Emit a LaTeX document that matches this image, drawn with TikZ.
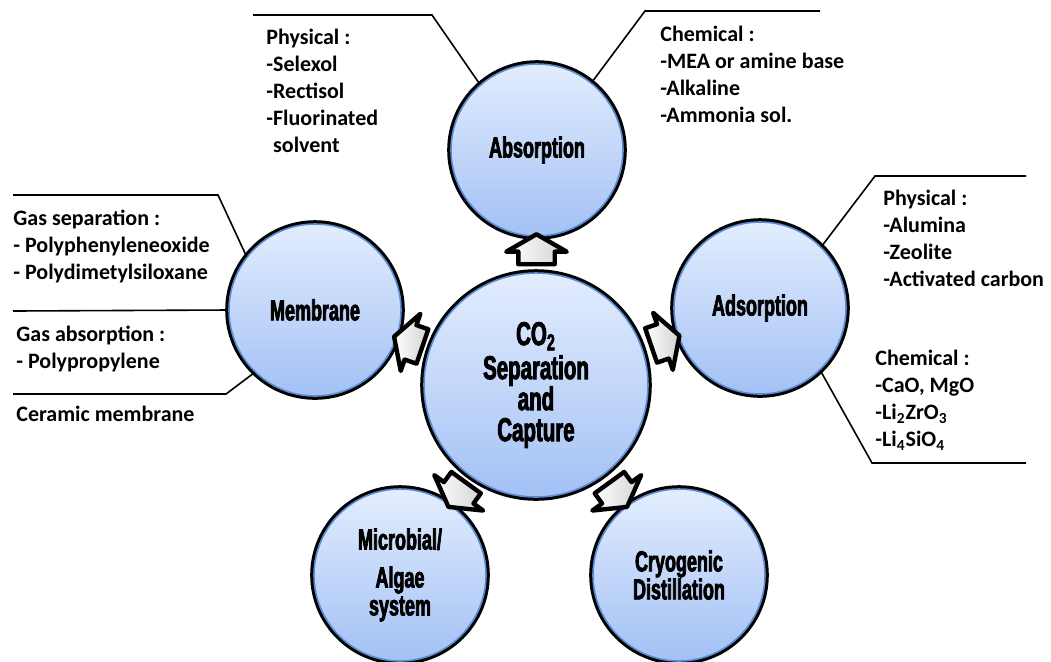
\documentclass[tikz,border=0pt]{standalone}
\usepackage{fontspec}
\setmainfont{Carlito}
\newfontfamily\circfont[FakeStretch=0.62,FakeBold=2.5]{Liberation Sans}
\usetikzlibrary{shapes.arrows,calc}

\definecolor{ringblue}{HTML}{5B8BD0}
\definecolor{topblue}{HTML}{E3EDFE}
\definecolor{botblue}{HTML}{A3C1F5}

\tikzset{
    method/.style={circle, minimum size=86pt, inner sep=0pt, align=center,
        top color=topblue, bottom color=botblue,
        draw=ringblue, line width=0.8pt, preaction={draw=black, line width=3.8pt},
        font=\circfont\bfseries\fontsize{14.5}{14}\selectfont},
    flowarrow/.style={single arrow, draw=black, line width=2.2pt, line join=round,
        left color=white, right color=gray!35,
        inner xsep=0pt, inner ysep=8pt, single arrow head extend=6pt,
        single arrow tip angle=120, minimum height=15pt},
    sidetext/.style={anchor=north west, align=left, inner sep=0pt,
        font=\bfseries\fontsize{11}{13.5}\selectfont},
    callout/.style={draw=black, line width=0.8pt}
}

\begin{document}
\begin{tikzpicture}[x=0.5pt, y=-0.5pt]
    \useasboundingbox (0,0) rectangle (1051,661);

    % circles
    \node[method, minimum size=112pt, font=\circfont\bfseries\fontsize{16.5}{15.5}\selectfont]
        (co2) at (536,385) {CO\textsubscript{2}\\[1.5pt]Separation\\and\\Capture};
    \node[method] (abs) at (537,150) {Absorption};
    \node[method] (mem) at (315,310) {Membrane};
    \node[method] (ads) at (760,308) {Adsorption};
    \node[method] (mic) at (400,575) {Microbial/\\[5pt]Algae\\system};
    \node[method] (cry) at (679,575) {Cryogenic\\Distillation};

    % arrows out of the centre
    \node[flowarrow, rotate=90] (toabs) at ($(co2.90)!0.5!(abs.270)$) {};
    \node[flowarrow, rotate=161] (tomem) at ($(co2.161)!0.5!(mem.-19)$) {};
    \node[flowarrow, rotate=19] (toads) at ($(co2.19)!0.5!(ads.199)$) {};
    \node[flowarrow, rotate=234] (tomic) at ($(co2.234)!0.5!(mic.54)$) {};
    \node[flowarrow, rotate=-54] (tocry) at ($(co2.-54)!0.5!(cry.126)$) {};

    % callout lines
    \coordinate (absL1) at (253,15);
    \coordinate (absL2) at (432,15);
    \coordinate (absR2) at (645,11);
    \coordinate (absR1) at (820,11);
    \coordinate (memT1) at (13,195);
    \coordinate (memT2) at (218,195);
    \coordinate (memM) at (13,311);
    \coordinate (memB1) at (13,394);
    \coordinate (memB2) at (226,394);
    \coordinate (adsT2) at (875,176);
    \coordinate (adsT1) at (1026,176);
    \coordinate (adsB2) at (872,463);
    \coordinate (adsB1) at (1026,463);

    \draw[callout] (absL1) -- (absL2) -- (abs.131);
    \draw[callout] (abs.51) -- (absR2) -- (absR1);
    \draw[callout] (memT1) -- (memT2) -- (mem.142);
    \draw[callout] (memM) -- (mem.180);
    \draw[callout] (memB1) -- (memB2) -- (mem.226);
    \draw[callout] (ads.45) -- (adsT2) -- (adsT1);
    \draw[callout] (ads.-46) -- (adsB2) -- (adsB1);

    % side texts
    \node[sidetext] (absphys) at (266,29) {Physical :\\-Selexol\\-Rectisol\\-Fluorinated\\\hphantom{-}solvent};
    \node[sidetext] (abschem) at (660,26) {Chemical :\\-MEA or amine base\\-Alkaline\\-Ammonia sol.};
    \node[sidetext] (memsep) at (13,210) {Gas separation :\\- Polyphenyleneoxide\\- Polydimetylsiloxane};
    \node[sidetext] (memabs) at (16,326) {Gas absorption :\\- Polypropylene};
    \node[sidetext] (memcer) at (16,406) {Ceramic membrane};
    \node[sidetext] (adsphys) at (883,190) {Physical :\\-Alumina\\-Zeolite\\-Activated carbon};
    \node[sidetext] (adschem) at (875,350) {Chemical :\\-CaO, MgO\\-Li\textsubscript{2}ZrO\textsubscript{3}\\-Li\textsubscript{4}SiO\textsubscript{4}};
\end{tikzpicture}
\end{document}
